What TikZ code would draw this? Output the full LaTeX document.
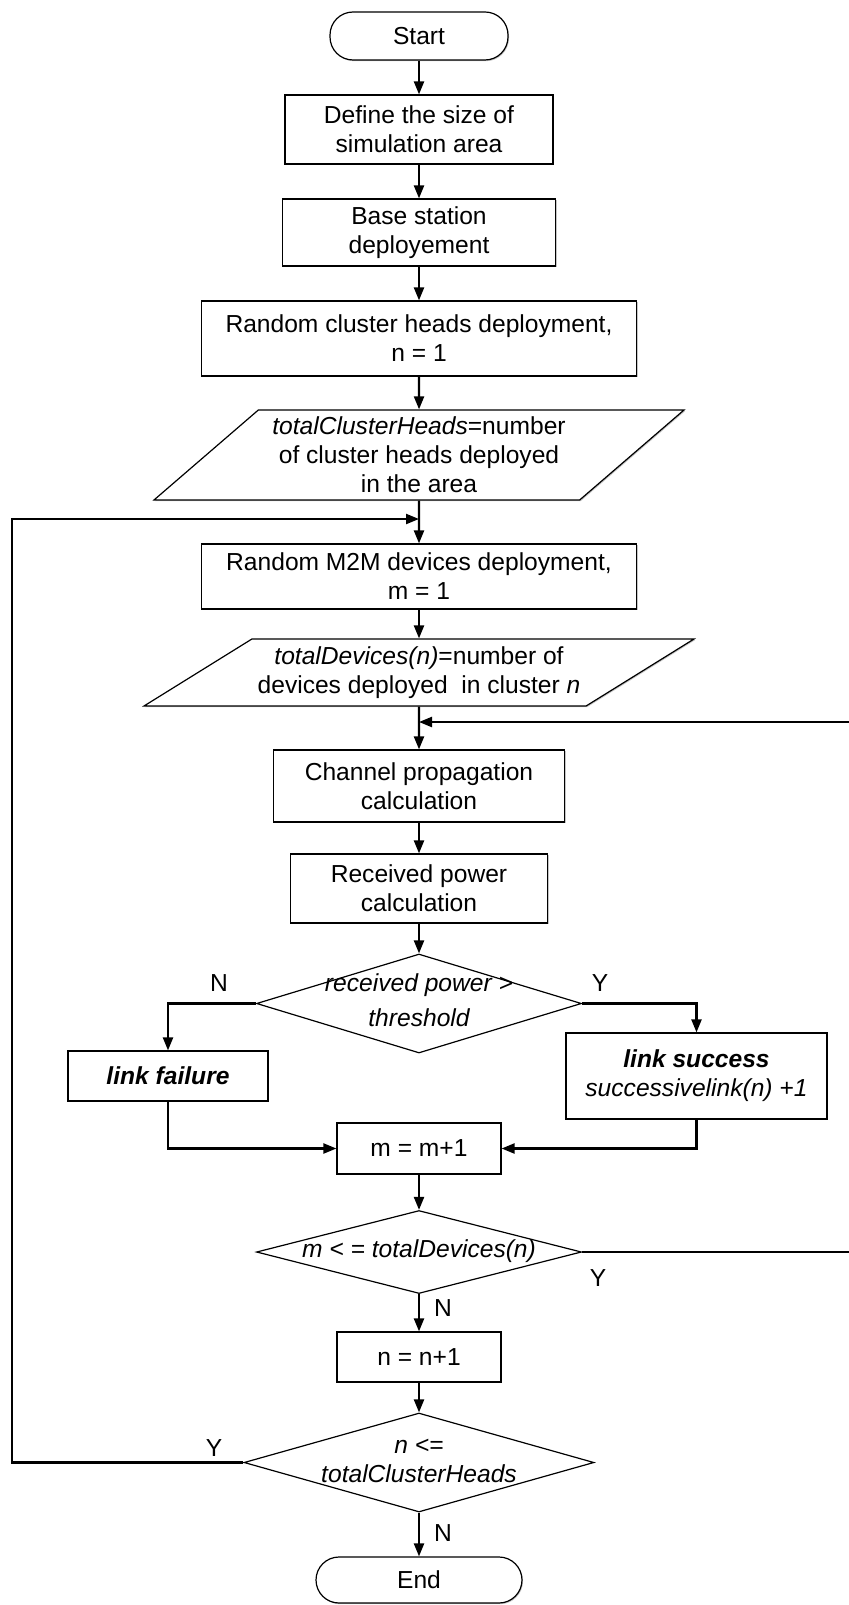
\documentclass[tikz,border=0pt]{standalone}
\usepackage{fontspec}
\setmainfont{Liberation Sans}
\usepackage{tikz}
\usetikzlibrary{shapes.geometric}
\usetikzlibrary{positioning}
\usetikzlibrary{arrows.meta}
\usetikzlibrary{shadows}
\newcommand{\dectext}[1]{\makebox[0pt]{\begin{tabular}{@{}c@{}}#1\end{tabular}}}

\begin{document}
\begin{tikzpicture}
			[
				x = 0.5pt, y = -0.5pt,
				font = \fontsize{12.3}{14.5}\selectfont,
				box/.style = {rectangle, draw = black, line width = 0.6pt, fill = white, align = center, inner sep = 1pt, drop shadow = {shadow xshift = 0.5pt, shadow yshift = -0.6pt, fill = black!45}},
				terminal/.style = {box, rounded corners = 11.5pt},
				io/.style = {trapezium, trapezium stretches body = true, draw = black, line width = 0.6pt, fill = white, align = center, inner sep = 1pt, drop shadow = {shadow xshift = 0.5pt, shadow yshift = -0.6pt, fill = black!45}},
				decision/.style = {diamond, draw = black, line width = 0.6pt, fill = white, inner sep = 0pt},
				flow/.style = {draw, line width = 1.1pt, -{Triangle[length = 6.5pt, width = 5pt]}},
				tag/.style = {inner sep = 0pt},
			]
			\useasboundingbox (0,0) rectangle (848,1605);
			\node (start) [terminal, minimum width = 89pt, minimum height = 24pt] at (419,36) {Start};
			\node (define) [box, minimum width = 134pt, minimum height = 34.5pt] at (419,129.5) {Define the size of\\simulation area};
			\node (base) [box, minimum width = 136.5pt, minimum height = 33.5pt] at (419,232.5) {Base station\\deployement};
			\node (clusters) [box, minimum width = 217.5pt, minimum height = 37.5pt] at (419,338.5) {Random cluster heads deployment,\\n = 1};
			\node (heads) [io, trapezium left angle = 37.5, trapezium right angle = 142.5, minimum width = 265pt, minimum height = 45pt] at (419,455) {\textit{totalClusterHeads}=number\\of cluster heads deployed\\in the area};
			\coordinate (j1) at (419,519);
			\node (devices) [box, minimum width = 217.5pt, minimum height = 32.5pt] at (419,576.5) {Random M2M devices deployment,\\m = 1};
			\node (perCluster) [io, trapezium left angle = 27.4, trapezium right angle = 152.6, minimum width = 275pt, minimum height = 33.5pt] at (419,672.5) {\textit{totalDevices(n)}=number of\\devices deployed~ in cluster \textit{n}};
			\coordinate (j2) at (419,722);
			\node (channel) [box, minimum width = 145.5pt, minimum height = 36pt] at (419,786) {Channel propagation\\calculation};
			\node (received) [box, minimum width = 128.5pt, minimum height = 34.5pt] at (419,888.5) {Received power\\calculation};
			\node (threshold) [decision, minimum width = 162.5pt, minimum height = 49.5pt] at (419,1003.5) {\dectext{\itshape received power >\\[3pt]\itshape threshold}};
			\node (failure) [box, minimum width = 100pt, minimum height = 25pt] at (168,1076) {\bfseries\itshape link failure};
			\node (success) [box, minimum width = 130.5pt, minimum height = 43pt] at (696.5,1076) {\bfseries\itshape link success\\\itshape successivelink(n) +1};
			\node (mInc) [box, minimum width = 82pt, minimum height = 25.5pt] at (419,1148.5) {m = m+1};
			\node (devCheck) [decision, minimum width = 162.5pt, minimum height = 41.5pt] at (419,1252) {\dectext{\itshape m < = totalDevices(n)}};
			\node (nInc) [box, minimum width = 82pt, minimum height = 25pt] at (419,1357) {n = n+1};
			\node (headCheck) [decision, minimum width = 175pt, minimum height = 49.5pt] at (419,1462.5) {\raisebox{3pt}{\dectext{\itshape n <=\\\itshape totalClusterHeads}}};
			\node (end) [terminal, minimum width = 103pt, minimum height = 23pt] at (419,1580) {End};
			\coordinate (rightRail) at (860,1000);
			\coordinate (leftRail) at (12,1000);
			\node (thrNo) [tag] at (219,983) {N};
			\node (thrYes) [tag] at (600,983) {Y};
			\node (devYes) [tag] at (598,1278) {Y};
			\node (devNo) [tag] at (443,1308) {N};
			\node (headYes) [tag] at (214,1448) {Y};
			\node (headNo) [tag] at (443,1533) {N};
			\draw [flow] (start) -- (define);
			\draw [flow] (define) -- (base);
			\draw [flow] (base) -- (clusters);
			\draw [flow] (clusters) -- (heads);
			\draw [flow] (heads) -- (devices);
			\draw [flow] (devices) -- (perCluster);
			\draw [flow] (perCluster) -- (channel);
			\draw [flow] (channel) -- (received);
			\draw [flow] (received) -- (threshold);
			\draw [flow] (threshold.west) -| (failure.north);
			\draw [flow] (threshold.east) -| (success.north);
			\draw [flow] (failure.south) |- (mInc.west);
			\draw [flow] (success.south) |- (mInc.east);
			\draw [flow] (mInc) -- (devCheck);
			\draw [flow] (devCheck) -- (nInc);
			\draw [flow] (nInc) -- (headCheck);
			\draw [flow] (headCheck) -- (end);
			\draw [flow] (devCheck.east) -| (rightRail) |- (j2);
			\draw [flow] (headCheck.west) -| (leftRail) |- (j1);
		\end{tikzpicture}
\end{document}
